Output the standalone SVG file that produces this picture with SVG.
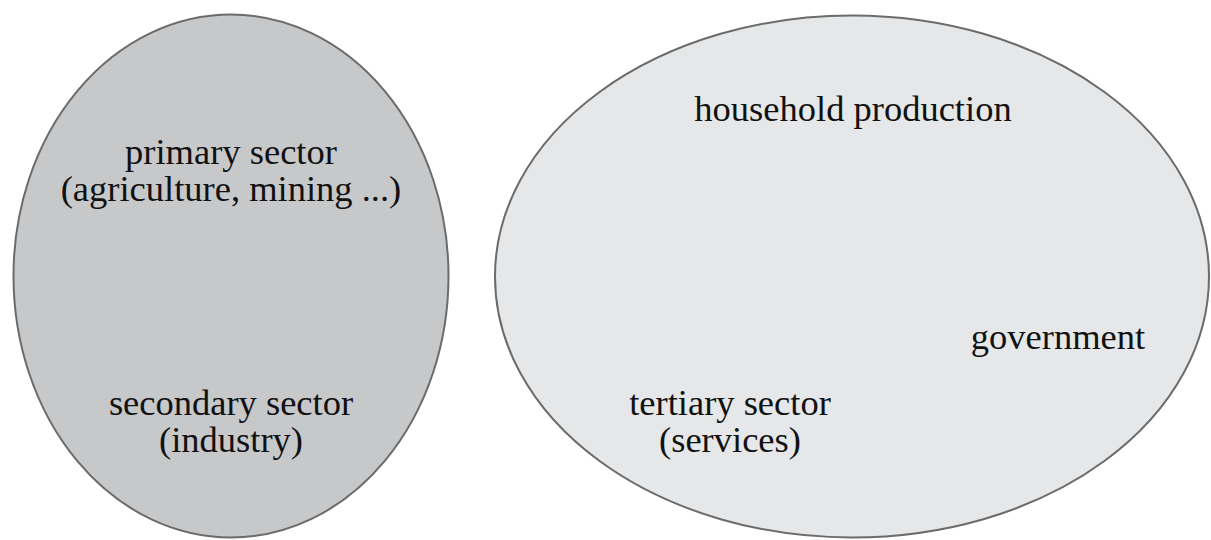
<svg xmlns="http://www.w3.org/2000/svg" width="1211" height="540" viewBox="0 0 1211 540">
<style>
.ell{stroke:#6b6b6b;stroke-width:2}
.lbl{font-family:"Liberation Serif","Times New Roman",serif;font-size:36.5px;fill:#111;text-anchor:middle}
</style>
<rect width="1211" height="540" fill="#ffffff"/>
<g id="left-group">
<ellipse class="ell" cx="231" cy="276" rx="217.5" ry="261.5" fill="#c7c8ca"/>
</g>
<g id="right-group">
<ellipse class="ell" cx="852" cy="276.5" rx="357" ry="261" fill="#e6e7e8"/>
</g>
<g id="primary">
<text class="lbl" x="231" y="164">primary sector</text>
<text class="lbl" x="231" y="201">(agriculture, mining ...)</text>
</g>
<g id="secondary">
<text class="lbl" x="231" y="415">secondary sector</text>
<text class="lbl" x="231" y="452">(industry)</text>
</g>
<g id="household">
<text class="lbl" x="853" y="121">household production</text>
</g>
<g id="government">
<text class="lbl" x="1058" y="349">government</text>
</g>
<g id="tertiary">
<text class="lbl" x="730" y="415">tertiary sector</text>
<text class="lbl" x="730" y="452">(services)</text>
</g>
<g id="connectors"></g>
</svg>
